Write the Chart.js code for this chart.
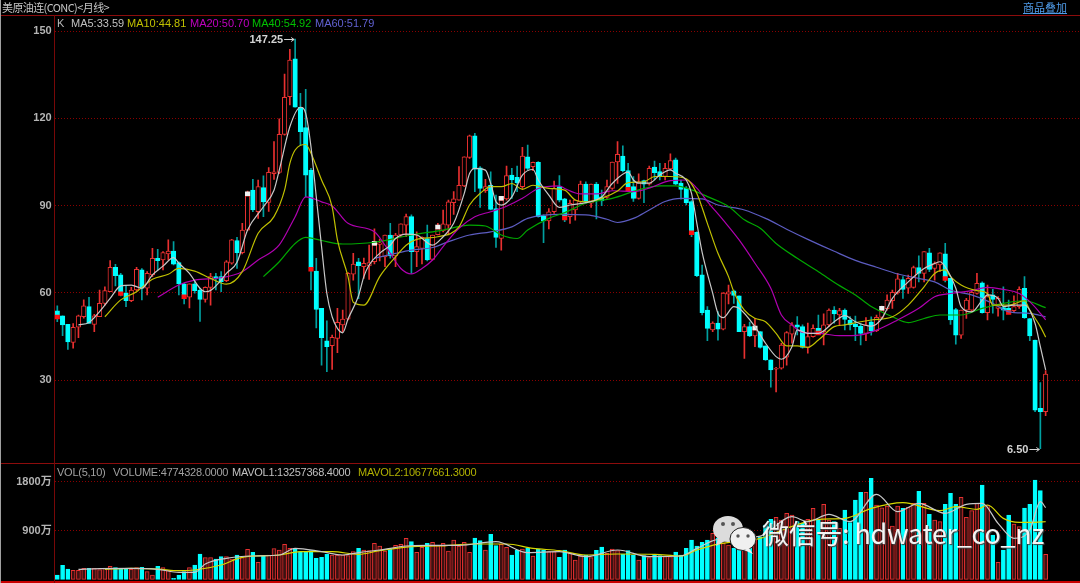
<!DOCTYPE html>
<html lang="zh">
<head>
<meta charset="UTF-8">
<title>美原油连(CONC)月线</title>
<script src="https://cdn.jsdelivr.net/npm/chart.js"></script>
<style>
    html, body { margin: 0; padding: 0; width: 1080px; height: 583px; background: #000; overflow: hidden; }
    canvas { position: absolute; left: 0; }
    #priceChart { top: 0; }
    #volChart { top: 463px; }
    .rule { position: absolute; background: #8c0c0c; }
    .txt { position: absolute; white-space: nowrap; font: 11px "Liberation Sans", sans-serif; line-height: 13px; }
    .tight { letter-spacing: -0.25px; }
    #title { left: 2px; top: 0; font: 11px "Noto Sans CJK SC", sans-serif; line-height: 14px; color: #c4c4c4; letter-spacing: -0.6px; }
    #overlay { left: 1023px; top: 0; font: 11px "Noto Sans CJK SC", sans-serif; line-height: 14px; color: #4f9be8; text-decoration: underline; }
    #mark { position: absolute; left: 762px; top: 514px; font: 400 27px "Noto Sans CJK SC", sans-serif; line-height: 38px; color: #f4f4f4; white-space: nowrap; letter-spacing: -0.3px; text-shadow: 1px 1px 1px #444; }
    svg { position: absolute; left: 710px; top: 512px; }
</style>
</head>
<body>
<canvas id="priceChart" width="1080" height="463"></canvas>
<canvas id="volChart" width="1080" height="120"></canvas>

<div class="rule" style="left:0;top:15px;width:1080px;height:1px"></div>
<div class="rule" style="left:0;top:463px;width:1080px;height:1px"></div>
<div class="rule" style="left:0;top:581px;width:1080px;height:2px;background:#c80000"></div>
<div class="rule" style="left:54px;top:15px;width:1px;height:568px;background:#780808"></div>
<div class="rule" style="left:0;top:0;width:1px;height:583px;background:#a0a0a0"></div>

<div class="txt" id="title">美原油连(CONC)&lt;月线&gt;</div>
<div class="txt" id="overlay">商品叠加</div>

<div class="txt" style="left:57px;top:17px;color:#b8b8b8">K</div>
<div class="txt" style="left:71px;top:17px;color:#c0c0c0">MA5:33.59</div>
<div class="txt" style="left:127px;top:17px;color:#c0c000">MA10:44.81</div>
<div class="txt" style="left:190px;top:17px;color:#c000c0">MA20:50.70</div>
<div class="txt" style="left:252px;top:17px;color:#00c000">MA40:54.92</div>
<div class="txt" style="left:315px;top:17px;color:#6060d0">MA60:51.79</div>

<div class="txt tight" style="left:57px;top:466px;color:#a0a0a0">VOL(5,10)</div>
<div class="txt tight" style="left:113px;top:466px;color:#a0a0a0">VOLUME:4774328.0000</div>
<div class="txt tight" style="left:232px;top:466px;color:#c0c0c0">MAVOL1:13257368.4000</div>
<div class="txt tight" style="left:358px;top:466px;color:#b0b000">MAVOL2:10677661.3000</div>

<svg width="50" height="45" viewBox="0 0 50 45">
    <ellipse cx="18" cy="17" rx="15" ry="13" fill="#dcdcdc"/>
    <path d="M8 26 L6 34 L15 29 Z" fill="#dcdcdc"/>
    <circle cx="13" cy="12" r="2" fill="#555"/>
    <circle cx="23" cy="12" r="2" fill="#555"/>
    <ellipse cx="33" cy="27" rx="13" ry="11.5" fill="#f0f0f0" stroke="#222" stroke-width="1"/>
    <path d="M39 36 L43 42 L34 38 Z" fill="#f0f0f0"/>
    <circle cx="28" cy="24" r="1.7" fill="#555"/>
    <circle cx="38" cy="24" r="1.7" fill="#555"/>
</svg>
<div id="mark">微信号:&#8201;hdwater_co_nz</div>

<script>
    // monthly candles
    const opens = [53.8,52.1,49.2,43,48.2,51.8,55.3,49.2,51.8,56.4,60.4,68.8,66.2,59.9,57.3,61,67.9,61.6,66.2,71.9,71.3,73.4,74.4,70.4,63.1,58.5,63.1,61,57.8,61.9,65.6,65.6,64.2,70.2,78,73.8,81.6,95.3,87.9,96.2,91.1,101,101.4,114.5,127.4,140.4,123.8,116.8,102.2,67.5,54.7,43.5,41.9,44.4,49,51,66.4,70.7,69,69.3,70.7,76.7,72.4,79.9,72.7,79.9,83.3,86.2,74.2,75.3,78.7,71.5,80,81.3,83.3,91,91.9,96.8,106.6,114,103,95.1,97,89,78.7,92.3,100.5,99.7,96.5,106.8,103.4,104.9,86.5,84.7,87.9,96.5,92.3,86.2,88.5,91.3,97.4,90.8,97.4,93,92.8,95.9,105,107,102,96.5,92.5,98.6,97.4,103.2,101.7,100,102.6,105.7,97.7,96,91.4,80.8,66.2,54.1,47.3,49.6,47.5,59.6,60.7,59,46.7,48.4,45.2,46.7,41.8,37,33.8,34.1,37.9,45.8,49,48.4,41.3,45,47.8,46.7,49,54.1,52.4,54.1,50.7,49.3,48.6,46.1,50.1,47,51.6,54.6,57.3,60,64.6,61.6,61.9,68.7,66.7,73.8,68.4,69.6,73.4,65,54.3,45.5,54.1,54.1,59.8,63.5,53.2,59.3,54.7,55,54.7,53.9,55.3,61.6,51.2,43.8,20.3,19.2];
    const closes = [52.4,49,43.2,48.2,52.1,55.6,49.5,52.1,56.4,60.8,68.8,65.9,60.4,57.3,61,68.1,61.6,66.7,71.9,71.1,73.9,74.4,69.9,63.1,59.3,63.1,60.8,57.8,61.9,65.6,65,63.9,70.7,78.2,73.8,81.6,93.4,88.5,96.5,91.3,101.4,101.6,114.5,127.2,140,123.8,115.4,100.5,68.8,54.3,44.6,41.5,44.7,49.9,51,66.7,69.9,69.4,70.2,70.4,76.4,77.2,79.9,72.7,79.9,83.7,86.2,74.2,75.9,79.1,71.3,79.9,82,83.7,91.3,92.3,97,106.8,114,102.5,95.9,96.5,88.7,79.1,91.9,100.3,98.8,97.9,107,102.8,104.9,86.2,84.7,87.9,95.9,91.9,86.4,90.8,91.9,97.4,91.3,97.4,91.9,91.6,96.5,105,107.6,102,96.3,92.5,98.2,97.4,102.8,101.3,100,102.8,105.5,97.4,95.6,91,81.3,65.9,53.2,47.8,49.6,47.5,59.9,60.4,59.1,46.7,48.4,45.2,47.3,41.3,37,33.5,34.1,42.1,46.4,49,48.2,41.3,45,47.8,46.9,49,54.1,52.8,53.9,50.9,49,48.4,46.1,49,46.9,51.6,54.1,57.5,60.2,64.8,61.2,65,68.7,66.7,74.2,68.1,70.1,73.8,65.6,50.7,45.5,54.1,57.5,60.2,63.3,53.2,58.7,57.8,58.1,54.1,53.9,55.3,61.2,51.5,45.2,19.7,19.2,32.1];
    const highs = [55.6,52.1,49.2,49.5,52.4,57.6,58.5,52.6,61,62.1,71.1,69.8,66.7,62.4,61.9,68.8,68.4,67.3,75.3,75,74.2,78.2,77.6,70.7,63.3,63.1,63.9,61.6,62.1,66.7,66.7,67.3,71.1,78.4,79.1,83.9,95,99,98.8,100.2,103.1,112,119.8,135.2,143.7,147.25,128.6,130,102.8,71.9,54.7,50.4,45.5,54.7,54.1,67,73.6,71.9,72,76.4,82,78.5,79.9,83.9,80.5,83.7,87.1,86.8,81,79.3,83.3,79.9,83.9,88.5,91.9,94.8,103.4,106.8,114.2,114.8,103.4,99,101.6,93.6,93,103.6,102.8,103.6,110,110.8,105,105.1,86.8,89,98.4,100.3,92.5,91.9,91.9,98.4,98.2,97.4,98,95.3,98.8,105,112,110.5,104.5,100,100.9,98.8,103.6,105.3,104.5,104.5,107.8,106.3,98.8,96.5,91.7,81,69.6,55.3,50.1,53.6,60.1,62.7,61,59,49.2,50,51.3,46.7,41.8,37,34.4,42.7,46.7,49.8,51.9,49,49.6,49,52.4,52.8,54.5,55.3,54.7,54.5,51.9,52,49.5,51.5,51.8,52.4,55.5,59.3,61,66.7,65.6,66.1,69.2,72.7,74.2,75.3,70.7,73.8,77,65,54.7,54.1,58.1,61,66.7,63.8,62.7,61.2,58.7,62.1,57.5,59,62.1,65.6,51.2,43.8,29.2,33.3];
    const lows = [50.1,45.3,40.6,41,44.6,51.3,49.5,46.7,51.8,55.8,60.4,62.4,59,55.3,57,60.8,57.6,59.3,65.6,67.9,67.9,71.3,69.6,59.3,56.2,54.8,59.9,50.2,56.8,55.8,61,60.4,63.9,69.9,68.4,73.4,81.6,87.9,85.6,86.2,88,99,101,114.2,124.6,123.8,110.8,93,61,48,35.2,32.9,33.7,39.5,46.7,50.7,64.4,58,65,64.6,70,71,69,71.9,69,79.3,79.3,66.7,69,70,71,71.3,79.9,81,79.9,87,91.9,96.5,106.2,94.8,89.4,94.5,88.5,75.6,74.7,91.9,92.5,94.8,95.9,102.2,102,86,77.3,82,87.3,91.3,84.5,83.9,85,90.8,90.8,89.4,85.4,90,92.5,95.6,97.6,101.6,95,91.4,92.2,91,97,98.8,98.8,98.8,102.2,97.1,92.2,90.2,79.3,65.6,52.4,43.6,46.7,43.8,47.3,56.2,56.4,46.7,37.5,45,41.5,41,36.8,27.6,26,33.8,35.2,42.7,45.6,41,39.3,44.8,45.9,42.1,48.4,49.6,49,47.3,47.3,43.6,42.1,43.6,45.5,46.7,51.2,54.1,54.7,59.6,58.1,59.8,61.6,63.8,63.8,67.3,64.4,67.3,63.8,49.2,42.4,44.4,51.2,53.5,59.6,53,50.7,53,52,50.7,53,53.5,54.7,51.2,43.6,19.2,6.5,17.8];
    // volume in 万
    const volumes = [80,259,191,166,166,203,203,203,179,203,240,216,197,197,185,216,222,142,80,240,216,166,18,80,142,216,265,468,400,400,376,419,419,376,450,400,554,499,314,431,450,567,542,647,573,554,511,511,530,388,407,462,450,450,450,437,511,573,542,530,665,616,524,554,628,647,758,696,499,591,665,684,622,665,524,727,616,684,499,764,715,542,832,622,647,591,450,542,561,573,431,561,542,511,511,407,542,480,357,437,450,400,536,598,480,561,530,468,530,450,357,437,400,450,437,419,419,505,450,573,727,616,684,727,850,758,665,634,573,604,727,665,727,788,1004,1109,1146,1096,1220,1189,1066,1035,1109,1312,1109,1386,1096,1066,942,1281,1047,1466,1608,1608,1866,1374,1324,1355,986,1355,1312,1331,1404,1626,1404,1201,1096,1066,1386,1589,1386,1515,1146,1269,1404,1743,1374,819,314,542,1189,1023,973,1318,1386,1836,1639,462];

    // moving averages, [month index, value] read at the visible turns
    const ma5 = [[4,49],[6,49.8],[8,53.6],[10,58.1],[12,62.4],[14,62.7],[16,61.6],[18,66.2],[20,69.2],[22,72.1],[23,70.2],[25,66.7],[27,61.6],[28,60.4],[29,60.8],[31,64.4],[32,66.7],[34,70.5],[36,81.6],[39,89.6],[41,95.3],[42,102.2],[44,117.1],[46,123.8],[47,121.7],[48,110.2],[49,93],[50,75.9],[51,59.8],[52,51.8],[53,47.8],[54,46.3],[55,51],[57,59],[58,65.6],[59,69.6],[61,73.6],[63,76.4],[64,78.7],[66,80.2],[68,79.9],[71,76.4],[73,79.3],[75,83.9],[77,94.2],[78,101],[79,102.8],[81,102.2],[82,97.6],[83,91.3],[84,90.2],[86,93],[88,100.5],[90,102.4],[91,98.8],[93,93.6],[95,89.4],[97,90.2],[100,91],[103,93],[105,97.6],[108,101.5],[109,98.8],[110,97.7],[112,97.7],[114,100.5],[116,102.3],[117,101.1],[119,98.8],[120,94.2],[121,84],[122,74],[124,59.9],[125,53],[126,51.5],[128,55.3],[129,54.7],[132,48.4],[134,42.7],[136,38.1],[137,37.2],[139,41.5],[140,47.3],[142,46.1],[144,46.1],[147,50.1],[149,52.2],[151,50.1],[154,48.6],[156,51.2],[158,58.1],[161,63.8],[164,68.4],[166,70.1],[167,70.7],[168,69],[170,61.6],[171,55.3],[173,53.5],[175,57.5],[176,59.3],[178,58.1],[179,55.3],[181,55.8],[183,55.8],[185,49.5],[186,41.5],[187,33.59]];
    const ma10 = [[9,51.8],[12,57.6],[15,60.4],[18,64.7],[21,66.4],[23,68.4],[26,67.5],[29,65],[32,63],[35,67.3],[38,80.5],[41,86.2],[43,95.3],[44,104.5],[45,109.1],[47,111],[48,108],[50,98.8],[52,89.6],[53,78.2],[55,65.6],[56,56.8],[58,55.8],[61,65.6],[64,72.4],[66,76.4],[68,78.4],[72,79.3],[76,82.7],[78,90.2],[80,94.2],[82,96.5],[84,96.5],[86,97.6],[88,95.6],[90,97],[93,95.9],[96,95.3],[98,91.9],[100,91.3],[103,92.5],[106,95],[108,97.9],[111,98.2],[113,100],[116,100],[119,99.2],[121,94.2],[123,83.9],[125,73.6],[127,65.6],[128,60.4],[130,54.1],[132,51.3],[134,50.1],[136,46.1],[138,41.8],[140,41.8],[142,41.3],[144,43.8],[147,48.4],[149,49],[152,50.1],[154,50.7],[158,51.8],[161,55.8],[164,62.1],[166,66.7],[168,67.9],[169,65.6],[171,62.7],[174,60.8],[176,59.8],[177,55.8],[180,55.8],[183,57.3],[184,54.1],[186,48.4],[187,44.81]];
    const ma20 = [[19,58.5],[23,62.7],[26,64.4],[31,65.2],[35,67.3],[38,71.3],[42,76.5],[45,86.2],[47,93],[50,91.3],[52,89.9],[55,83.9],[60,81],[62,76.4],[65,68.4],[67,66.5],[69,68.4],[71,71.3],[73,75.9],[76,82.2],[79,86.2],[82,87.9],[85,89.8],[88,92.5],[91,95.9],[95,96.8],[96,95.9],[99,94],[102,94],[105,95.1],[109,94.8],[112,96],[116,98.6],[119,98.8],[121,96],[123,91.4],[126,85],[129,78.2],[132,70.2],[135,61.6],[137,52.4],[139,49],[141,46.4],[144,46.1],[148,45.3],[152,45.6],[155,47.2],[159,50.7],[163,54.7],[166,58.7],[169,59.8],[173,60.8],[176,61.9],[179,61.2],[182,59.8],[184,57],[186,53],[187,50.7]];
    const ma40 = [[39,65.6],[42,70.7],[45,77],[47,79.1],[50,78],[54,76.8],[60,77.4],[67,79.9],[73,81.6],[78,83.3],[81,83],[84,79.9],[87,78.7],[89,81.6],[93,85.6],[96,87.6],[100,90.8],[105,92.5],[110,95.4],[114,96.8],[117,96.8],[120,95.4],[123,93.1],[127,89.7],[130,85.1],[133,82.2],[136,77],[140,71.9],[144,67.3],[148,62.5],[151,59.3],[154,55.3],[158,51.8],[161,49.8],[164,51.2],[167,52.4],[171,52.4],[175,54.7],[179,56.4],[183,57.3],[187,54.92]];
    const ma60 = [[60,71.9],[64,73.6],[67,74.7],[71,75.6],[74,77.6],[78,79.9],[82,81],[86,82.7],[89,85.6],[95,87],[100,86.8],[104,85.3],[106,84.2],[109,85.6],[112,88.5],[115,91.4],[118,92.5],[122,92.3],[125,90.2],[130,88.5],[134,85.6],[138,81.9],[142,78.4],[147,74.3],[151,71.2],[155,68.8],[159,66.5],[163,65],[166,63.8],[169,61],[173,59.3],[177,56.4],[180,53.5],[184,53],[187,51.79]];

    const mavol1 = [[4,185],[8,197],[14,203],[19,185],[23,129],[26,129],[28,283],[32,388],[37,431],[42,450],[45,573],[50,511],[54,450],[57,495],[61,542],[66,616],[70,628],[76,628],[83,696],[89,493],[95,511],[100,419],[106,542],[112,419],[118,431],[121,573],[125,740],[133,800],[139,1158],[142,1066],[146,1201],[150,1066],[155,1571],[159,1250],[163,1404],[168,1220],[172,1386],[175,1404],[178,1035],[181,758],[184,912],[186,1435],[187,1325.7]];
    const mavol2 = [[9,185],[14,203],[19,191],[23,160],[26,172],[31,265],[35,407],[42,450],[46,511],[52,511],[57,462],[61,530],[67,604],[72,616],[79,653],[85,653],[90,573],[95,530],[100,450],[106,468],[113,462],[118,431],[121,542],[125,650],[133,758],[138,942],[144,1109],[149,1127],[154,1312],[160,1417],[167,1269],[170,1343],[174,1294],[176,1374],[179,1127],[182,1053],[185,1053],[187,1067.8]];

    const priceTicks = [30, 60, 90, 120, 150];
    const volTicks = [900, 1800];
    // the window leaves a few empty months to the right of the last candle
    const months = Array.from({ length: 194 }, (_, i) => i);

    const cyan = '#00ffff', red = '#e83030';
    const isDown = i => closes[i] < opens[i];
    const toXY = pts => pts.map(p => ({ x: p[0], y: p[1] }));

    function lineSet(pts, color, yAxisID) {
        return {
            type: 'line', data: toXY(pts), borderColor: color, borderWidth: 1.2, pointRadius: 0,
            cubicInterpolationMode: 'monotone', order: 0, yAxisID
        };
    }

    function yAxis(min, max, ticks, fmt) {
        return {
            min, max, position: 'left',
            // keep the plot the full canvas height, labels may overhang
            afterFit: s => { s.width = 54.66; s.paddingTop = 0; s.paddingBottom = 0; },
            afterBuildTicks: s => { s.ticks = ticks.map(v => ({ value: v })); },
            border: { display: false, dash: [1, 2] },
            grid: { color: '#8a0000', drawTicks: false, lineWidth: 1 },
            ticks: {
                color: '#b4b4b4', padding: 3, autoSkip: false,
                font: { family: '"Liberation Sans", "Noto Sans CJK SC"', size: 11, weight: 'bold' },
                callback: fmt
            }
        };
    }

    const xAxis = { display: false, offset: true, grid: { display: false } };

    // 147.25 and 6.50 labels with their little arrows
    const extremes = [[45, 147.25, '147.25'], [186, 6.5, '6.50']];
    const extremeLabels = {
        id: 'extremeLabels',
        afterDatasetsDraw(chart) {
            const { ctx, scales } = chart;
            ctx.save();
            ctx.font = 'bold 11px "Liberation Sans"';
            ctx.fillStyle = ctx.strokeStyle = '#d4d4d4';
            ctx.textAlign = 'right';
            ctx.textBaseline = 'middle';
            extremes.forEach(e => {
                const x = scales.x.getPixelForValue(e[0]);
                const y = Math.round(scales.y.getPixelForValue(e[1])) + 0.5;
                ctx.fillText(e[2], x - 12, y);
                ctx.beginPath();
                ctx.moveTo(x - 11, y); ctx.lineTo(x - 1, y);
                ctx.moveTo(x - 4, y - 2); ctx.lineTo(x - 1, y); ctx.lineTo(x - 4, y + 2);
                ctx.lineWidth = 1;
                ctx.stroke();
            });
            ctx.restore();
        }
    };

    new Chart(document.getElementById('priceChart').getContext('2d'), {
        type: 'bar',
        data: {
            labels: months,
            datasets: [
                lineSet(ma5, '#c8c8c8', 'y'),
                lineSet(ma10, '#c0c000', 'y'),
                lineSet(ma20, '#b000b0', 'y'),
                lineSet(ma40, '#00a800', 'y'),
                lineSet(ma60, '#5c5cc0', 'y'),
                {   // January flag on each candle
                    data: closes.map((c, i) => i % 12 ? null : (isDown(i) ? [c - 1.3, c] : [c, c + 1.3])),
                    backgroundColor: closes.map((c, i) => isDown(i) ? '#ff1010' : '#f0f0f0'),
                    barThickness: 4.5, grouped: false, order: 1
                },
                {   // bodies
                    data: closes.map((c, i) => [opens[i], c]),
                    backgroundColor: closes.map((c, i) => isDown(i) ? cyan : '#000'),
                    borderColor: closes.map((c, i) => isDown(i) ? cyan : red),
                    borderWidth: 1, borderSkipped: false, barThickness: 4.5, grouped: false, order: 2
                },
                {   // wicks
                    data: highs.map((h, i) => [lows[i], h]),
                    backgroundColor: closes.map((c, i) => isDown(i) ? '#00a0a0' : red),
                    barThickness: 1, grouped: false, order: 3
                }
            ]
        },
        options: {
            responsive: false, animation: false, devicePixelRatio: 1,
            layout: { padding: { top: 15, left: 0, right: 0, bottom: 0 } },
            plugins: { legend: { display: false }, tooltip: { enabled: false } },
            scales: { x: xAxis, y: yAxis(1.55, 155.5, priceTicks, v => v) }
        },
        plugins: [extremeLabels]
    });

    new Chart(document.getElementById('volChart').getContext('2d'), {
        type: 'bar',
        data: {
            labels: months,
            datasets: [
                lineSet(mavol1, '#c8c8c8', 'y'),
                lineSet(mavol2, '#d8d800', 'y'),
                {
                    data: volumes,
                    backgroundColor: volumes.map((v, i) => isDown(i) ? cyan : '#3a1212'),
                    borderColor: volumes.map((v, i) => isDown(i) ? cyan : red),
                    borderWidth: 1, borderSkipped: false, barThickness: 4, grouped: false, order: 2
                }
            ]
        },
        options: {
            responsive: false, animation: false, devicePixelRatio: 1,
            layout: { padding: 0 },
            plugins: { legend: { display: false }, tooltip: { enabled: false } },
            scales: { x: xAxis, y: yAxis(-68, 2151, volTicks, v => v + '万') }
        }
    });
</script>
</body>
</html>
